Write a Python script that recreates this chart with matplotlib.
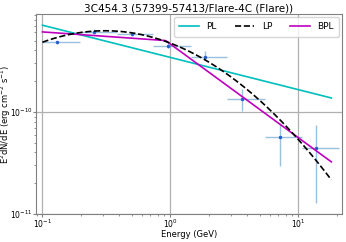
import matplotlib
matplotlib.use("Agg")
import matplotlib.pyplot as plt
import numpy as np

# flux points (GeV, erg cm^-2 s^-1)
energy = [0.131, 0.255, 0.499, 0.964, 1.87, 3.65, 7.17, 13.9]
e_lo = [0.100, 0.195, 0.381, 0.736, 1.44, 2.80, 5.50, 10.7]
e_hi = [0.195, 0.381, 0.736, 1.44, 2.80, 5.50, 10.7, 20.8]
flux = [4.82e-10, 6.12e-10, 5.78e-10, 4.44e-10, 3.48e-10, 1.34e-10, 5.69e-11, 4.41e-11]
flux_lo = [4.65e-10, 5.75e-10, 5.50e-10, 4.20e-10, 3.24e-10, 1.02e-10, 2.96e-11, 1.27e-11]
flux_hi = [5.00e-10, 6.50e-10, 6.05e-10, 4.70e-10, 3.94e-10, 1.67e-10, 7.74e-11, 7.46e-11]

# model parameters (log10 space, x = log10 E/GeV)
PL_NORM, PL_SLOPE = -9.466, -0.3155
LP_A, LP_B, LP_C = -9.326, -0.4755, -0.4665
BPL_BREAK, BPL_NORM, BPL_S1, BPL_S2 = 0.92, 5.0e-10, -0.088, -0.917
E_MIN, E_MAX = 0.1, 18.2

plt.rcParams.update({
    "font.size": 6,
    "font.family": "DejaVu Sans",
})

fig = plt.figure(figsize=(3.46, 2.42), dpi=100)
ax = fig.add_axes([0.104, 0.116, 0.884, 0.826])

e = np.logspace(np.log10(E_MIN), np.log10(E_MAX), 200)
x = np.log10(e)
pl = 10 ** (PL_NORM + PL_SLOPE * x)
lp = 10 ** (LP_A + LP_B * x + LP_C * x ** 2)
bpl = np.where(e < BPL_BREAK,
               BPL_NORM * (e / BPL_BREAK) ** BPL_S1,
               BPL_NORM * (e / BPL_BREAK) ** BPL_S2)

energy = np.array(energy)
flux = np.array(flux)
xerr = [energy - np.array(e_lo), np.array(e_hi) - energy]
yerr = [flux - np.array(flux_lo), np.array(flux_hi) - flux]

ax.errorbar(energy, flux, xerr=xerr, yerr=yerr, fmt="none",
            ecolor="C0", elinewidth=1.0, alpha=0.45, zorder=2)
ax.plot(energy, flux, ".", color="#2a5fd0", ms=3, zorder=3)

ax.plot(e, pl, color="c", lw=1.2, label="PL", zorder=4)
ax.plot(e, lp, color="black", lw=1.2, ls="--", label="LP", zorder=5)
ax.plot(e, bpl, color="m", lw=1.2, label="BPL", zorder=4)

ax.set_xscale("log")
ax.set_yscale("log")
ax.set_xlim(0.089, 22)
ax.set_ylim(1e-11, 9.1e-10)
ax.grid(True, which="major", color="#b0b0b0", lw=0.9)
ax.set_axisbelow(True)
for sp in ax.spines.values():
    sp.set_color("#808080")
ax.tick_params(which="both", colors="#808080", labelcolor="black",
               labelsize=5.5, pad=0.5)
ax.tick_params(which="major", length=2)
ax.tick_params(which="minor", length=1.5)

ax.set_title("3C454.3 (57399-57413/Flare-4C (Flare))", fontsize=7.5, pad=2)
ax.set_xlabel("Energy (GeV)", fontsize=6)
ax.xaxis.set_label_coords(0.5, -0.08)
ax.set_ylabel(r"E$^2$dN/dE (erg cm$^{-2}$ s$^{-1}$)", fontsize=6)
ax.yaxis.set_label_coords(-0.076, 0.5)
ax.legend(loc="upper right", ncol=3, fontsize=6.5, handlelength=2.2,
          columnspacing=2.0, borderaxespad=0.3, borderpad=0.6)

fig.savefig("out.png", dpi=100)
